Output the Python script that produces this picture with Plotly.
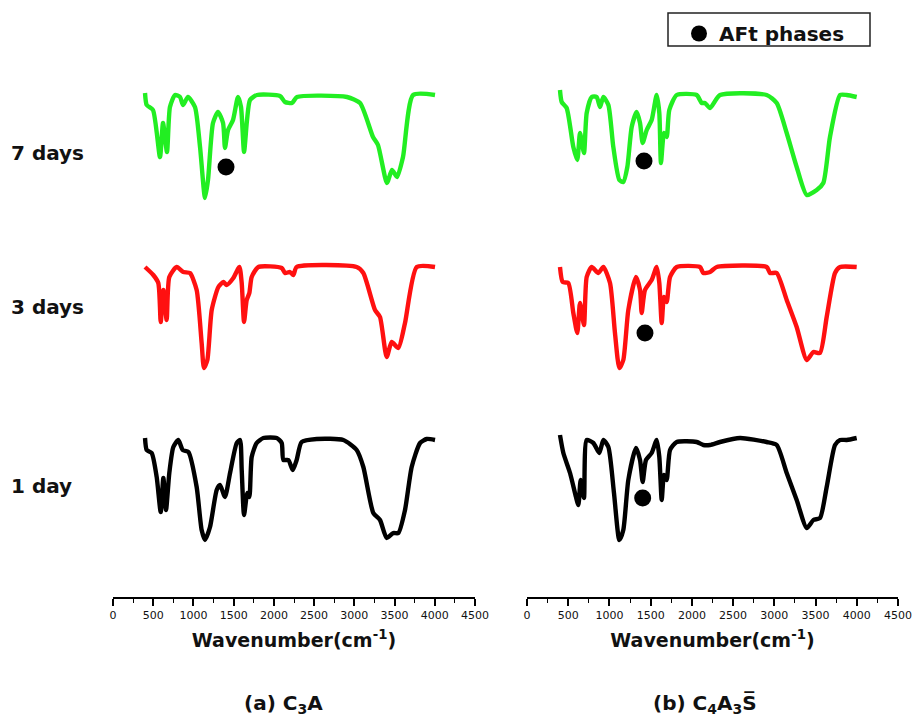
import plotly.graph_objects as go

# ---------------- data (wavenumber cm-1, relative transmittance a.u.) ----------------
days = ["1 day", "3 days", "7 days"]
day_offsets = [50, 220, 390]          # vertical stacking offsets
colors = ["#000000", "#FF1010", "#22EE22"]

# (a) C3A
c3a_1d_wn = [398, 419, 481, 543, 593, 626, 659, 700, 750, 812, 866, 937, 1040, 1102, 1144, 1206, 1289, 1330, 1392,
             1455, 1538, 1579, 1600, 1629, 1670, 1695, 1724, 1786, 1869, 2035, 2097, 2118, 2180, 2234, 2283, 2345,
             2532, 2863, 3029, 3112, 3236, 3319, 3402, 3485, 3547, 3630, 3713, 3817, 3900, 4003]
c3a_1d_t = [109, 97, 94, 70, 35, 69, 37, 74, 100, 107, 97, 95, 60, 17, 7, 20, 57, 62, 50,
            74, 104, 107, 77, 32, 54, 50, 90, 104, 109, 109, 104, 87, 87, 77, 87, 105,
            108, 107, 97, 80, 34, 27, 9, 14, 14, 37, 80, 104, 108, 107]

c3a_3d_wn = [398, 501, 563, 593, 626, 667, 700, 792, 874, 957, 1040, 1102, 1131, 1173, 1227, 1310, 1372, 1413, 1496,
             1571, 1600, 1629, 1662, 1695, 1724, 1807, 2097, 2138, 2200, 2242, 2283, 3029, 3112, 3257, 3319, 3402,
             3465, 3547, 3630, 3776, 4003]
c3a_3d_t = [110, 102, 94, 55, 87, 57, 100, 110, 105, 104, 87, 34, 9, 17, 67, 90, 95, 92, 99,
            110, 94, 55, 77, 84, 100, 110, 109, 104, 105, 102, 110, 110, 104, 67, 60, 20,
            35, 29, 54, 110, 110]

c3a_7d_wn = [398, 419, 497, 584, 622, 671, 708, 771, 833, 870, 932, 1019, 1082, 1144, 1181, 1243, 1305, 1368, 1392,
             1430, 1492, 1554, 1591, 1629, 1666, 1703, 1790, 2076, 2138, 2225, 2287, 2909, 3071, 3232, 3294, 3406,
             3468, 3531, 3605, 3730, 4003]
c3a_7d_t = [114, 102, 97, 50, 84, 55, 100, 112, 110, 102, 110, 100, 60, 9, 27, 84, 95, 84, 59,
            77, 87, 110, 100, 55, 87, 107, 112, 111, 105, 104, 110, 110, 104, 70, 62, 24,
            37, 30, 50, 112, 112]

# (b) C4A3S
c4a3s_1d_wn = [400, 441, 522, 594, 623, 651, 691, 724, 805, 877, 926, 987, 1055, 1120, 1168, 1229, 1322, 1371, 1403,
               1443, 1512, 1573, 1605, 1634, 1662, 1694, 1735, 1816, 2058, 2139, 2220, 2341, 2584, 2907, 3029, 3150,
               3271, 3393, 3474, 3554, 3635, 3736, 3797, 3878, 3999]
c4a3s_1d_t = [112, 94, 74, 50, 42, 67, 49, 107, 104, 94, 107, 100, 54, 7, 17, 67, 99, 87, 65,
              87, 94, 107, 90, 47, 72, 67, 97, 105, 105, 102, 102, 105, 109, 105, 102, 74,
              47, 19, 27, 29, 60, 102, 107, 107, 109]

c4a3s_3d_wn = [400, 433, 501, 562, 610, 643, 691, 724, 785, 865, 926, 1007, 1067, 1120, 1168, 1229, 1322, 1371, 1391,
               1431, 1512, 1573, 1605, 1634, 1662, 1694, 1735, 1816, 2098, 2139, 2220, 2301, 2907, 2948, 3029, 3150,
               3271, 3393, 3474, 3554, 3635, 3736, 3797, 3999]
c4a3s_3d_t = [110, 95, 94, 64, 44, 74, 52, 100, 110, 104, 110, 94, 44, 9, 17, 67, 100, 87, 64,
              87, 97, 110, 94, 54, 80, 75, 100, 110, 110, 104, 105, 110, 110, 104, 104, 77,
              50, 17, 25, 24, 60, 104, 110, 110]

c4a3s_7d_wn = [400, 421, 481, 562, 610, 643, 691, 724, 785, 845, 886, 926, 987, 1047, 1120, 1168, 1217, 1270, 1330,
               1371, 1403, 1452, 1512, 1573, 1605, 1625, 1662, 1694, 1726, 1816, 2058, 2119, 2159, 2220, 2341, 2907,
               3029, 3150, 3271, 3393, 3514, 3594, 3675, 3797, 3878, 3999]
c4a3s_7d_t = [117, 105, 99, 60, 47, 74, 54, 94, 110, 110, 100, 110, 102, 60, 27, 25, 40, 80, 95,
              84, 64, 77, 87, 112, 94, 44, 74, 70, 97, 112, 112, 104, 104, 99, 112, 112,
              104, 74, 40, 12, 17, 24, 70, 112, 112, 110]

# AFt phase markers: (column, day index, wavenumber, relative transmittance)
aft_col = ["a", "b", "b", "b"]
aft_day = [2, 2, 1, 0]
aft_wn = [1405, 1419, 1431, 1403]
aft_t = [40, 46, 44, 49]

x_ticks = [0, 500, 1000, 1500, 2000, 2500, 3000, 3500, 4000, 4500]
panel_titles = ["(a) C<sub>3</sub>A", "(b) C<sub>4</sub>A<sub>3</sub>S\u0305"]

# ---------------- figure ----------------
W, H = 914, 724
FONT = "DejaVu Sans"
fig = go.Figure()

spectra = {
    "a": [(c3a_1d_wn, c3a_1d_t), (c3a_3d_wn, c3a_3d_t), (c3a_7d_wn, c3a_7d_t)],
    "b": [(c4a3s_1d_wn, c4a3s_1d_t), (c4a3s_3d_wn, c4a3s_3d_t), (c4a3s_7d_wn, c4a3s_7d_t)],
}
axes = {"a": ("x", "y"), "b": ("x2", "y2")}

for col, lst in spectra.items():
    xa, ya = axes[col]
    for i, (wn, t) in enumerate(lst):
        fig.add_trace(go.Scatter(
            x=wn, y=[v + day_offsets[i] for v in t], mode="lines",
            line=dict(color=colors[i], width=4.4, shape="spline", smoothing=0.6),
            xaxis=xa, yaxis=ya, showlegend=False, hoverinfo="skip"))

first = True
for col in ["a", "b"]:
    xs = [w for c, w in zip(aft_col, aft_wn) if c == col]
    ys = [t + day_offsets[d] for c, d, t in zip(aft_col, aft_day, aft_t) if c == col]
    xa, ya = axes[col]
    fig.add_trace(go.Scatter(
        x=xs, y=ys, mode="markers", name="<b>AFt phases</b>", legendgroup="aft",
        marker=dict(color="black", size=17), xaxis=xa, yaxis=ya, showlegend=first, hoverinfo="skip"))
    first = False

ybot = (H - 597) / H
xdoms = [[113 / W, 475 / W], [527 / W, 898 / W]]
common_x = dict(
    range=[0, 4500], tickvals=x_ticks, ticks="outside", ticklen=7, tickwidth=1.5, tickcolor="black",
    showline=True, linecolor="black", linewidth=1.5, showgrid=False, zeroline=False, automargin=False,
    tickfont=dict(family=FONT, size=11, color="#111"),
    minor=dict(dtick=250, tick0=0, ticks="outside", ticklen=4, tickwidth=1.2, tickcolor="black", showgrid=False),
    title=dict(text="<b>Wavenumber(cm<sup>-1</sup>)</b>", font=dict(family=FONT, size=19, color="#111"), standoff=13),
)
common_y = dict(range=[0, 597], visible=False, domain=[ybot, 1], automargin=False)

fig.update_layout(
    width=W, height=H, autosize=False,
    margin=dict(l=0, r=0, t=0, b=0, autoexpand=False),
    paper_bgcolor="white", plot_bgcolor="white",
    xaxis=dict(domain=xdoms[0], anchor="y", **common_x),
    xaxis2=dict(domain=xdoms[1], anchor="y2", **common_x),
    yaxis=dict(anchor="x", **common_y),
    yaxis2=dict(anchor="x2", **common_y),
    showlegend=True,
    legend=dict(x=679 / W, y=1 - 14 / H, xanchor="left", yanchor="top", bgcolor="rgba(0,0,0,0)",
                borderwidth=0, font=dict(family=FONT, size=20, color="#111"), itemclick=False),
)

# legend frame
fig.add_shape(type="rect", xref="paper", yref="paper", x0=668 / W, x1=870 / W,
              y0=1 - 46 / H, y1=1 - 13 / H, line=dict(color="#222", width=1.5))

# row labels
row_label_y = [486, 307, 153]
for lab, py in zip(days, row_label_y):
    fig.add_annotation(text="<b>%s</b>" % lab, xref="paper", yref="paper", x=9 / W, y=1 - py / H,
                       xanchor="left", yanchor="middle", showarrow=False,
                       font=dict(family=FONT, size=20, color="#111"))

# panel titles
for txt, px in zip(panel_titles, [283, 705]):
    fig.add_annotation(text="<b>%s</b>" % txt, xref="paper", yref="paper", x=px / W, y=1 - 704 / H,
                       xanchor="center", yanchor="middle", showarrow=False,
                       font=dict(family=FONT, size=20, color="#111"))

fig.write_html(
    "out.html",
    config={"displayModeBar": False, "responsive": False},
    post_script=("document.documentElement.style.margin='0px';document.body.style.margin='0px';"
                 "document.documentElement.style.overflow='hidden';document.body.style.overflow='hidden';"),
)
